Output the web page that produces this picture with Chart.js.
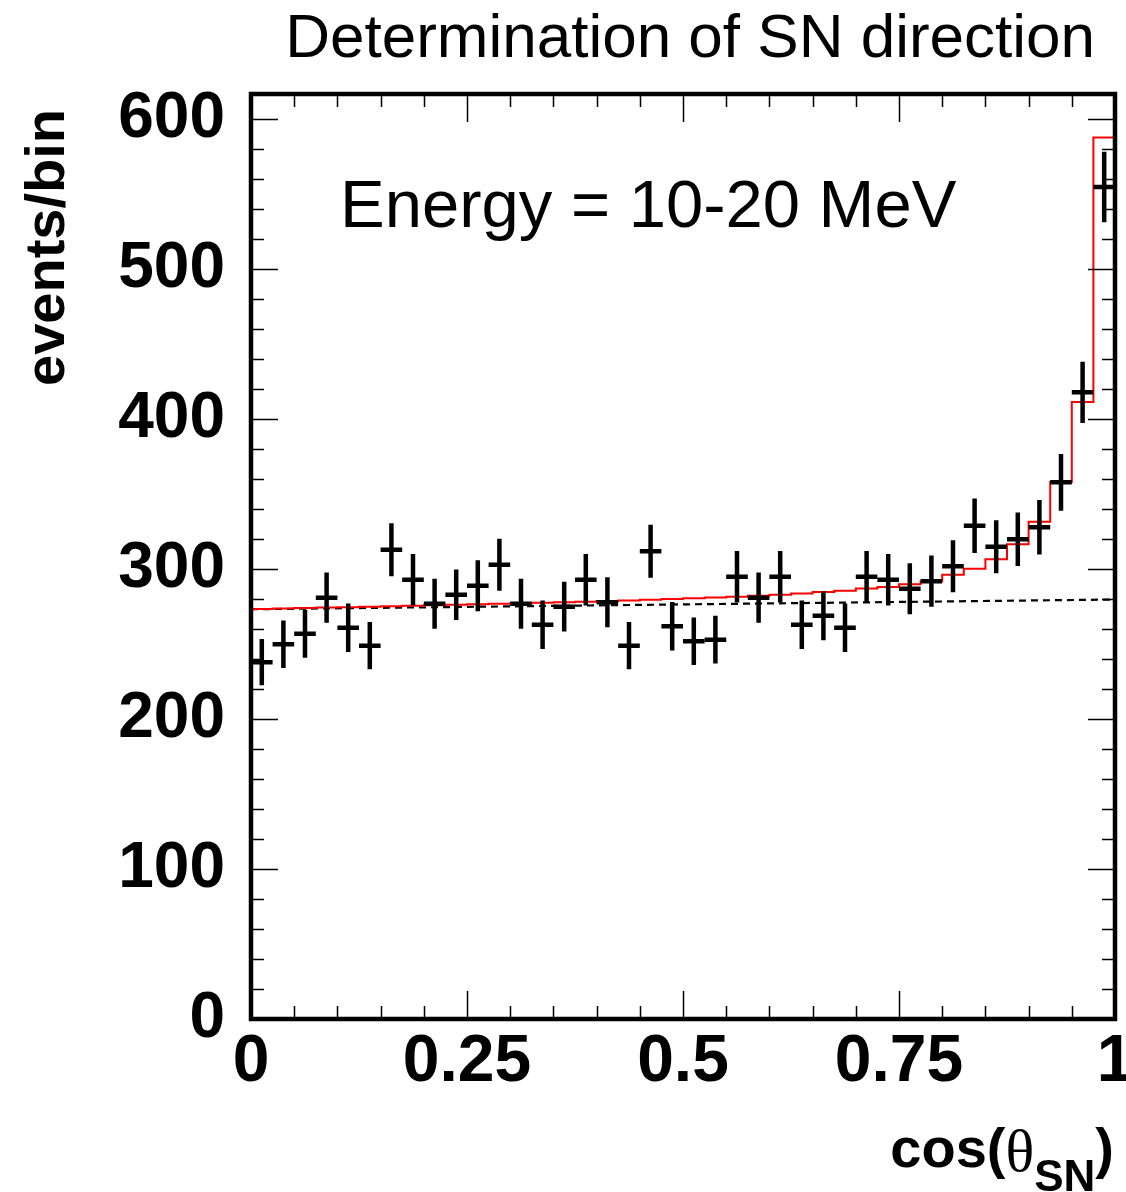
<!DOCTYPE html>
<html><head><meta charset="utf-8">
<script src="https://cdn.jsdelivr.net/npm/chart.js@4.4.1/dist/chart.umd.min.js"></script>
<style>html,body{margin:0;padding:0;background:#fff}#wrap{width:1126px;height:1192px}</style>
</head><body><div id="wrap"><canvas id="c" width="1126" height="1192"></canvas></div>
<script>
// ---- data ----
const titleText = 'Determination of SN direction';
const labelText = 'Energy = 10-20 MeV';
const yTitleText = 'events/bin';
const binWidth = 0.025;
const nBins = 40;
const counts = [238, 250, 257, 281, 261, 249, 313, 293, 277, 283,
                289, 303, 277, 263, 275, 293, 278, 249, 312, 262,
                252, 253, 295, 281, 295, 263, 269, 261, 295, 293,
                287, 292, 302, 329, 315, 320, 328, 358, 418, 555];
const fitModel = [273.5, 273.8, 274.1, 274.4, 274.7, 275.0, 275.3, 275.6, 276.0, 276.3,
                  276.6, 277.0, 277.3, 277.7, 278.0, 278.4, 278.8, 279.2, 279.6, 280.1,
                  280.6, 281.1, 281.7, 282.3, 283.0, 283.8, 284.9, 285.6, 287.1, 288.2,
                  290.0, 292.0, 296.4, 300.4, 306.7, 316.7, 331.6, 358.2, 411.6, 588.0];
const flatX = [0, 1];
const flatY = [273.3, 279.8];
const xTickValues = [0, 0.25, 0.5, 0.75, 1];
const xTickLabels = ['0', '0.25', '0.5', '0.75', '1'];
const yTickValues = [0, 100, 200, 300, 400, 500, 600];
const yTickLabels = ['0', '100', '200', '300', '400', '500', '600'];
const xMinorStep = 0.05, yMinorStep = 20;
const yMax = 617;

// ---- derived structures ----
const binCenters = Array.from({length: nBins}, (_, i) => (i + 0.5) * binWidth);
const dataPoints = counts.map((v, i) => ({x: binCenters[i], y: v}));
const histPoints = [{x: 0, y: 0}];
fitModel.forEach((v, i) => { histPoints.push({x: i * binWidth, y: v}); histPoints.push({x: (i + 1) * binWidth, y: v}); });
histPoints.push({x: 1, y: 0});
const flatPoints = flatX.map((x, i) => ({x, y: flatY[i]}));

const FONT = "'Liberation Sans', Arial, Helvetica, sans-serif";

const rootPlugin = {
  id: 'rootStyle',
  afterDatasetsDraw(chart) {
    const {ctx, chartArea: a, scales: {x, y}} = chart;
    const meta = chart.getDatasetMeta(2);
    ctx.save();
    ctx.strokeStyle = '#000';
    ctx.lineWidth = 4.5;
    ctx.lineCap = 'butt';
    meta.data.forEach((el, i) => {
      const d = dataPoints[i];
      const err = Math.sqrt(d.y);
      const px = x.getPixelForValue(d.x), py = y.getPixelForValue(d.y);
      const x0 = x.getPixelForValue(d.x - binWidth / 2), x1 = x.getPixelForValue(d.x + binWidth / 2);
      ctx.beginPath();
      ctx.moveTo(px, y.getPixelForValue(d.y - err));
      ctx.lineTo(px, y.getPixelForValue(d.y + err));
      ctx.moveTo(x0, py); ctx.lineTo(x1, py);
      ctx.stroke();
    });
    ctx.lineWidth = 1.5;
    ctx.beginPath();
    for (let v = 0; v <= yMax + 1e-9; v += yMinorStep) {
      const py = Math.round(y.getPixelForValue(v)) + 0.5;
      const major = Math.abs(v / 100 - Math.round(v / 100)) < 1e-6;
      const L = major ? 27 : 13;
      ctx.moveTo(a.left, py); ctx.lineTo(a.left + L, py);
      ctx.moveTo(a.right, py); ctx.lineTo(a.right - L, py);
    }
    for (let k = 0; k <= 20; k++) {
      const v = k * xMinorStep;
      const px = Math.round(x.getPixelForValue(v)) + 0.5;
      const L = (k % 5 === 0) ? 28 : 13;
      ctx.moveTo(px, a.bottom); ctx.lineTo(px, a.bottom - L);
      ctx.moveTo(px, a.top); ctx.lineTo(px, a.top + L);
    }
    ctx.stroke();
    ctx.lineWidth = 4.5;
    ctx.strokeRect(a.left, a.top, a.right - a.left, a.bottom - a.top);
    ctx.restore();
  },
  afterDraw(chart) {
    const {ctx} = chart;
    ctx.save();
    ctx.fillStyle = '#000';
    ctx.font = '62px ' + FONT;
    ctx.textAlign = 'right'; ctx.textBaseline = 'alphabetic';
    ctx.fillText(titleText, 1095, 57);
    ctx.font = '67px ' + FONT;
    ctx.textAlign = 'left';
    ctx.fillText(labelText, 340, 227);
    ctx.save();
    ctx.translate(64, 386);
    ctx.rotate(-Math.PI / 2);
    ctx.font = 'bold 56px ' + FONT;
    ctx.textAlign = 'left';
    ctx.fillText(yTitleText, 0, 0);
    ctx.restore();
    const base = 1167;
    const fMain = 'bold 56px ' + FONT;
    const fTheta = '60px "Liberation Serif", "Times New Roman", serif';
    const fSub = 'bold 44px ' + FONT;
    ctx.textAlign = 'left';
    ctx.font = fMain; const wClose = ctx.measureText(')').width; const wCos = ctx.measureText('cos(').width;
    ctx.font = fSub; const wSub = ctx.measureText('SN').width;
    ctx.font = fTheta; const wTh = ctx.measureText('\u03b8').width;
    let xx = 1114 - wClose - wSub - wTh - wCos;
    ctx.font = fMain; ctx.fillText('cos(', xx, base); xx += wCos;
    ctx.font = fTheta; ctx.fillText('\u03b8', xx, base + 4); xx += wTh;
    ctx.font = fSub; ctx.fillText('SN', xx, base + 24); xx += wSub;
    ctx.font = fMain; ctx.fillText(')', xx, base);
    ctx.restore();
  }
};

new Chart(document.getElementById('c'), {
  type: 'scatter',
  data: {
    datasets: [
      {data: histPoints, showLine: true, borderColor: '#ff0000', borderWidth: 2, pointRadius: 0, tension: 0, fill: false},
      {data: flatPoints, showLine: true, borderColor: '#000', borderWidth: 2.2, borderDash: [7, 5], pointRadius: 0, fill: false},
      {data: dataPoints, showLine: false, pointRadius: 0, borderColor: '#000', backgroundColor: '#000'}
    ]
  },
  options: {
    responsive: false, animation: false, devicePixelRatio: 1,
    layout: {padding: {left: 0, right: 11, top: 94, bottom: 0}},
    plugins: {legend: {display: false}, tooltip: {enabled: false}, title: {display: false}},
    scales: {
      x: {
        type: 'linear', min: 0, max: 1,
        afterBuildTicks: s => { s.ticks = xTickValues.map(v => ({value: v})); },
        afterFit: s => { s.height = 173; s.paddingLeft = 0; s.paddingRight = 0; },
        ticks: {callback: (v, i) => xTickLabels[i], color: '#000', padding: 4, maxRotation: 0, autoSkip: false,
                font: {family: FONT, size: 66, weight: 'bold'}},
        grid: {display: false, drawTicks: false},
        border: {display: false}
      },
      y: {
        type: 'linear', min: 0, max: yMax,
        afterBuildTicks: s => { s.ticks = yTickValues.map(v => ({value: v})); },
        afterFit: s => { s.width = 251; s.paddingTop = 0; s.paddingBottom = 0; },
        ticks: {callback: (v, i) => yTickLabels[i], color: '#000', padding: 26, autoSkip: false,
                font: {family: FONT, size: 64, weight: 'bold'}},
        grid: {display: false, drawTicks: false},
        border: {display: false}
      }
    }
  },
  plugins: [rootPlugin]
});
</script></body></html>
